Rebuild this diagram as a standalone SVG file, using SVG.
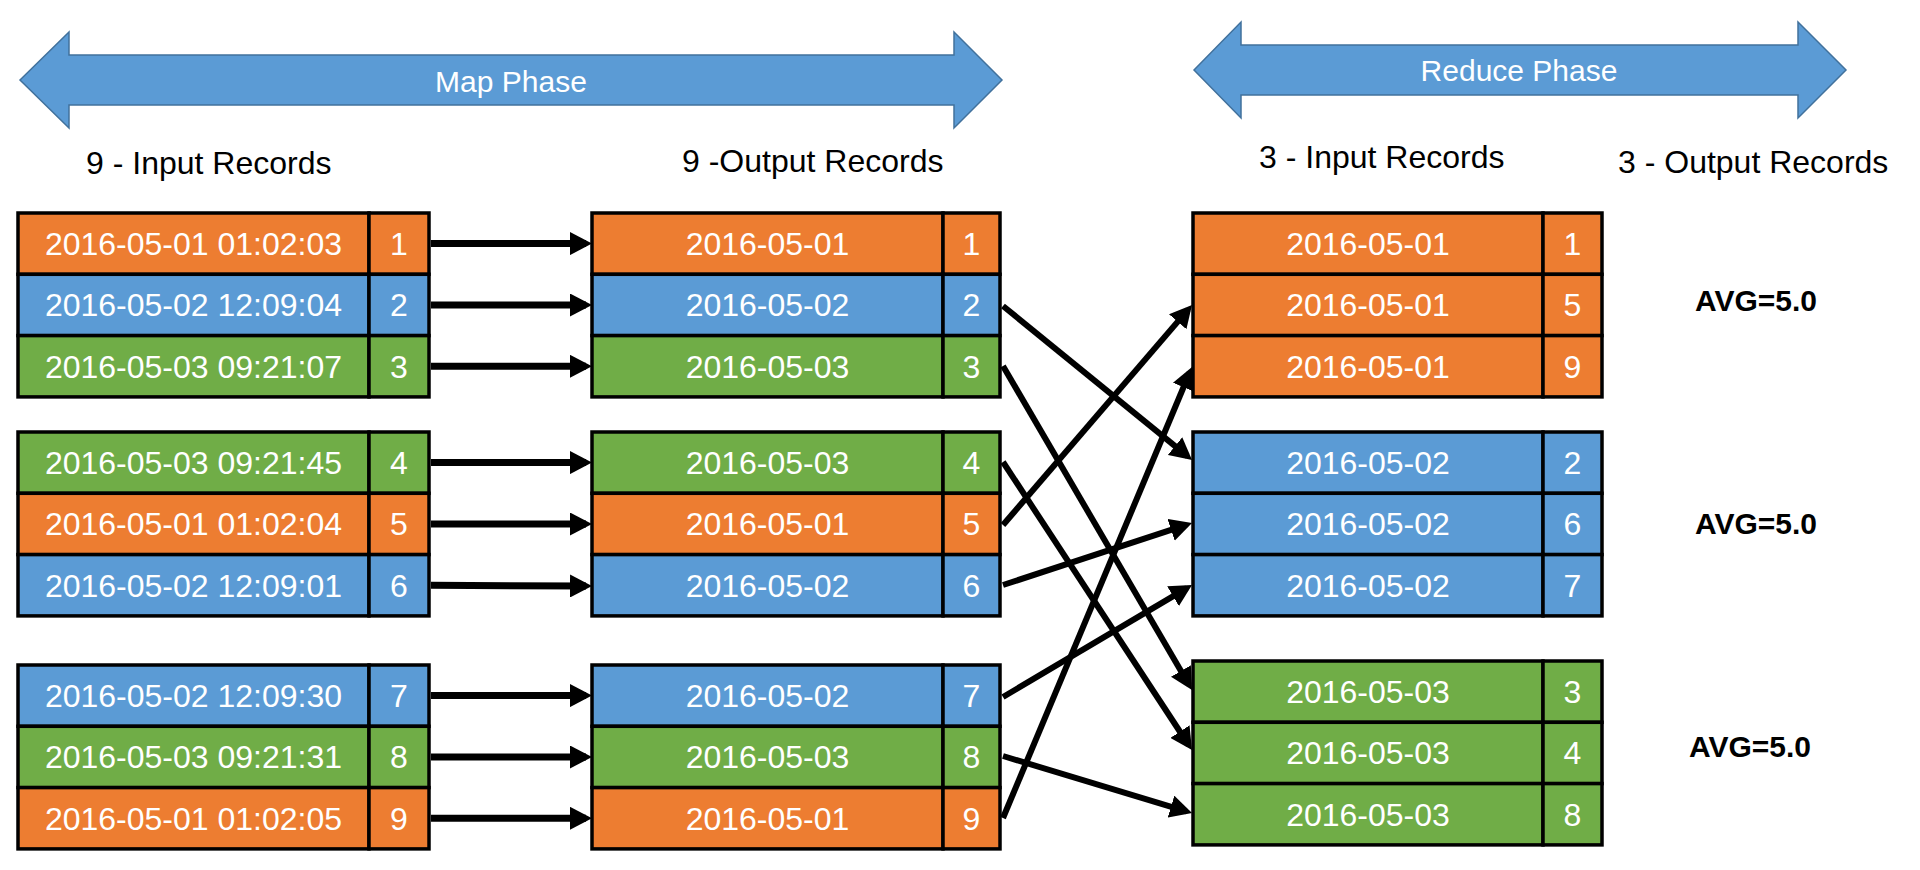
<svg xmlns="http://www.w3.org/2000/svg" width="1920" height="870" viewBox="0 0 1920 870">
<defs>
<style>
.o{fill:#ED7D31;stroke:#000;stroke-width:3.5}
.b{fill:#5B9BD5;stroke:#000;stroke-width:3.5}
.g{fill:#70AD47;stroke:#000;stroke-width:3.5}
.t{font-family:"Liberation Sans",Arial,sans-serif;font-size:32px;fill:#fff;text-anchor:middle}
.h{font-family:"Liberation Sans",Arial,sans-serif;font-size:32px;fill:#000}
.ph{font-family:"Liberation Sans",Arial,sans-serif;font-size:30px;fill:#fff;text-anchor:middle}
.avg{font-family:"Liberation Sans",Arial,sans-serif;font-size:30px;font-weight:bold;fill:#000;text-anchor:middle}
.phase{fill:#5B9BD5;stroke:#41719C;stroke-width:1.5}
.c{stroke:#000;stroke-width:6;fill:none;marker-end:url(#ah)}
.hz{stroke-width:7}
</style>
<marker id="ah" markerUnits="userSpaceOnUse" markerWidth="22" markerHeight="23" viewBox="0 0 22 23" refX="16" refY="11.5" orient="auto"><path d="M0,0 L22,11.5 L0,23 z" fill="#000"/></marker>
</defs>
<rect width="1920" height="870" fill="#fff"/>

<g id="map-phase">
<polygon class="phase" points="20,80 69,32 69,55 954,55 954,32 1002,80 954,128 954,105 69,105 69,128"/>
<text class="ph" x="511" y="92">Map Phase</text>
</g>
<g id="reduce-phase">
<polygon class="phase" points="1194,70 1241,22 1241,45 1798,45 1798,22 1846,70 1798,118 1798,95 1241,95 1241,118"/>
<text class="ph" x="1519" y="81">Reduce Phase</text>
</g>

<g id="headers">
<text class="h" x="86" y="174">9 - Input Records</text>
<text class="h" x="682" y="172">9 -Output Records</text>
<text class="h" x="1259" y="168">3 - Input Records</text>
<text class="h" x="1618" y="173">3 - Output Records</text>
</g>

<g id="input-1">
<rect class="o" x="18" y="213" width="351" height="61.3"/><rect class="o" x="369" y="213" width="60" height="61.3"/>
<rect class="b" x="18" y="274.3" width="351" height="61.3"/><rect class="b" x="369" y="274.3" width="60" height="61.3"/>
<rect class="g" x="18" y="335.6" width="351" height="61.3"/><rect class="g" x="369" y="335.6" width="60" height="61.3"/>
<text class="t" x="193.5" y="255">2016-05-01 01:02:03</text><text class="t" x="399" y="255">1</text>
<text class="t" x="193.5" y="316.3">2016-05-02 12:09:04</text><text class="t" x="399" y="316.3">2</text>
<text class="t" x="193.5" y="377.6">2016-05-03 09:21:07</text><text class="t" x="399" y="377.6">3</text>
</g>
<g id="input-2">
<rect class="g" x="18" y="432" width="351" height="61.3"/><rect class="g" x="369" y="432" width="60" height="61.3"/>
<rect class="o" x="18" y="493.3" width="351" height="61.3"/><rect class="o" x="369" y="493.3" width="60" height="61.3"/>
<rect class="b" x="18" y="554.6" width="351" height="61.3"/><rect class="b" x="369" y="554.6" width="60" height="61.3"/>
<text class="t" x="193.5" y="474">2016-05-03 09:21:45</text><text class="t" x="399" y="474">4</text>
<text class="t" x="193.5" y="535.3">2016-05-01 01:02:04</text><text class="t" x="399" y="535.3">5</text>
<text class="t" x="193.5" y="596.6">2016-05-02 12:09:01</text><text class="t" x="399" y="596.6">6</text>
</g>
<g id="input-3">
<rect class="b" x="18" y="665" width="351" height="61.3"/><rect class="b" x="369" y="665" width="60" height="61.3"/>
<rect class="g" x="18" y="726.3" width="351" height="61.3"/><rect class="g" x="369" y="726.3" width="60" height="61.3"/>
<rect class="o" x="18" y="787.6" width="351" height="61.3"/><rect class="o" x="369" y="787.6" width="60" height="61.3"/>
<text class="t" x="193.5" y="707">2016-05-02 12:09:30</text><text class="t" x="399" y="707">7</text>
<text class="t" x="193.5" y="768.3">2016-05-03 09:21:31</text><text class="t" x="399" y="768.3">8</text>
<text class="t" x="193.5" y="829.6">2016-05-01 01:02:05</text><text class="t" x="399" y="829.6">9</text>
</g>

<g id="map-out-1">
<rect class="o" x="592" y="213" width="351" height="61.3"/><rect class="o" x="943" y="213" width="57" height="61.3"/>
<rect class="b" x="592" y="274.3" width="351" height="61.3"/><rect class="b" x="943" y="274.3" width="57" height="61.3"/>
<rect class="g" x="592" y="335.6" width="351" height="61.3"/><rect class="g" x="943" y="335.6" width="57" height="61.3"/>
<text class="t" x="767.5" y="255">2016-05-01</text><text class="t" x="971.5" y="255">1</text>
<text class="t" x="767.5" y="316.3">2016-05-02</text><text class="t" x="971.5" y="316.3">2</text>
<text class="t" x="767.5" y="377.6">2016-05-03</text><text class="t" x="971.5" y="377.6">3</text>
</g>
<g id="map-out-2">
<rect class="g" x="592" y="432" width="351" height="61.3"/><rect class="g" x="943" y="432" width="57" height="61.3"/>
<rect class="o" x="592" y="493.3" width="351" height="61.3"/><rect class="o" x="943" y="493.3" width="57" height="61.3"/>
<rect class="b" x="592" y="554.6" width="351" height="61.3"/><rect class="b" x="943" y="554.6" width="57" height="61.3"/>
<text class="t" x="767.5" y="474">2016-05-03</text><text class="t" x="971.5" y="474">4</text>
<text class="t" x="767.5" y="535.3">2016-05-01</text><text class="t" x="971.5" y="535.3">5</text>
<text class="t" x="767.5" y="596.6">2016-05-02</text><text class="t" x="971.5" y="596.6">6</text>
</g>
<g id="map-out-3">
<rect class="b" x="592" y="665" width="351" height="61.3"/><rect class="b" x="943" y="665" width="57" height="61.3"/>
<rect class="g" x="592" y="726.3" width="351" height="61.3"/><rect class="g" x="943" y="726.3" width="57" height="61.3"/>
<rect class="o" x="592" y="787.6" width="351" height="61.3"/><rect class="o" x="943" y="787.6" width="57" height="61.3"/>
<text class="t" x="767.5" y="707">2016-05-02</text><text class="t" x="971.5" y="707">7</text>
<text class="t" x="767.5" y="768.3">2016-05-03</text><text class="t" x="971.5" y="768.3">8</text>
<text class="t" x="767.5" y="829.6">2016-05-01</text><text class="t" x="971.5" y="829.6">9</text>
</g>

<g id="reduce-1">
<rect class="o" x="1193" y="213" width="350" height="61.3"/><rect class="o" x="1543" y="213" width="59" height="61.3"/>
<rect class="o" x="1193" y="274.3" width="350" height="61.3"/><rect class="o" x="1543" y="274.3" width="59" height="61.3"/>
<rect class="o" x="1193" y="335.6" width="350" height="61.3"/><rect class="o" x="1543" y="335.6" width="59" height="61.3"/>
<text class="t" x="1368" y="255">2016-05-01</text><text class="t" x="1572.5" y="255">1</text>
<text class="t" x="1368" y="316.3">2016-05-01</text><text class="t" x="1572.5" y="316.3">5</text>
<text class="t" x="1368" y="377.6">2016-05-01</text><text class="t" x="1572.5" y="377.6">9</text>
</g>
<g id="reduce-2">
<rect class="b" x="1193" y="432" width="350" height="61.3"/><rect class="b" x="1543" y="432" width="59" height="61.3"/>
<rect class="b" x="1193" y="493.3" width="350" height="61.3"/><rect class="b" x="1543" y="493.3" width="59" height="61.3"/>
<rect class="b" x="1193" y="554.6" width="350" height="61.3"/><rect class="b" x="1543" y="554.6" width="59" height="61.3"/>
<text class="t" x="1368" y="474">2016-05-02</text><text class="t" x="1572.5" y="474">2</text>
<text class="t" x="1368" y="535.3">2016-05-02</text><text class="t" x="1572.5" y="535.3">6</text>
<text class="t" x="1368" y="596.6">2016-05-02</text><text class="t" x="1572.5" y="596.6">7</text>
</g>
<g id="reduce-3">
<rect class="g" x="1193" y="661" width="350" height="61.3"/><rect class="g" x="1543" y="661" width="59" height="61.3"/>
<rect class="g" x="1193" y="722.3" width="350" height="61.3"/><rect class="g" x="1543" y="722.3" width="59" height="61.3"/>
<rect class="g" x="1193" y="783.6" width="350" height="61.3"/><rect class="g" x="1543" y="783.6" width="59" height="61.3"/>
<text class="t" x="1368" y="703">2016-05-03</text><text class="t" x="1572.5" y="703">3</text>
<text class="t" x="1368" y="764.3">2016-05-03</text><text class="t" x="1572.5" y="764.3">4</text>
<text class="t" x="1368" y="825.6">2016-05-03</text><text class="t" x="1572.5" y="825.6">8</text>
</g>

<g id="outputs">
<text class="avg" x="1756" y="311">AVG=5.0</text>
<text class="avg" x="1756" y="534">AVG=5.0</text>
<text class="avg" x="1750" y="757">AVG=5.0</text>
</g>

<g id="connectors">
<line class="c hz" x1="431" y1="243.6" x2="586" y2="243.6"/>
<line class="c hz" x1="431" y1="305" x2="586" y2="305"/>
<line class="c hz" x1="431" y1="366.3" x2="586" y2="366.3"/>
<line class="c hz" x1="431" y1="462.6" x2="586" y2="462.6"/>
<line class="c hz" x1="431" y1="524" x2="586" y2="524"/>
<line class="c hz" x1="431" y1="585.3" x2="586" y2="586"/>
<line class="c hz" x1="431" y1="695.6" x2="586" y2="695.6"/>
<line class="c hz" x1="431" y1="757" x2="586" y2="757"/>
<line class="c hz" x1="431" y1="818.3" x2="586" y2="818.3"/>
<line class="c" x1="1003" y1="306" x2="1187.4" y2="456.2"/>
<line class="c" x1="1003" y1="366" x2="1189" y2="684.8"/>
<line class="c" x1="1003" y1="462" x2="1188.7" y2="745"/>
<line class="c" x1="1003" y1="525" x2="1188.1" y2="309.6"/>
<line class="c" x1="1003" y1="585" x2="1186.3" y2="524.9"/>
<line class="c" x1="1003" y1="697" x2="1186.8" y2="588.1"/>
<line class="c" x1="1003" y1="756" x2="1186.3" y2="811.3"/>
<line class="c" x1="1003" y1="818" x2="1189.7" y2="372.5"/>
</g>
</svg>
